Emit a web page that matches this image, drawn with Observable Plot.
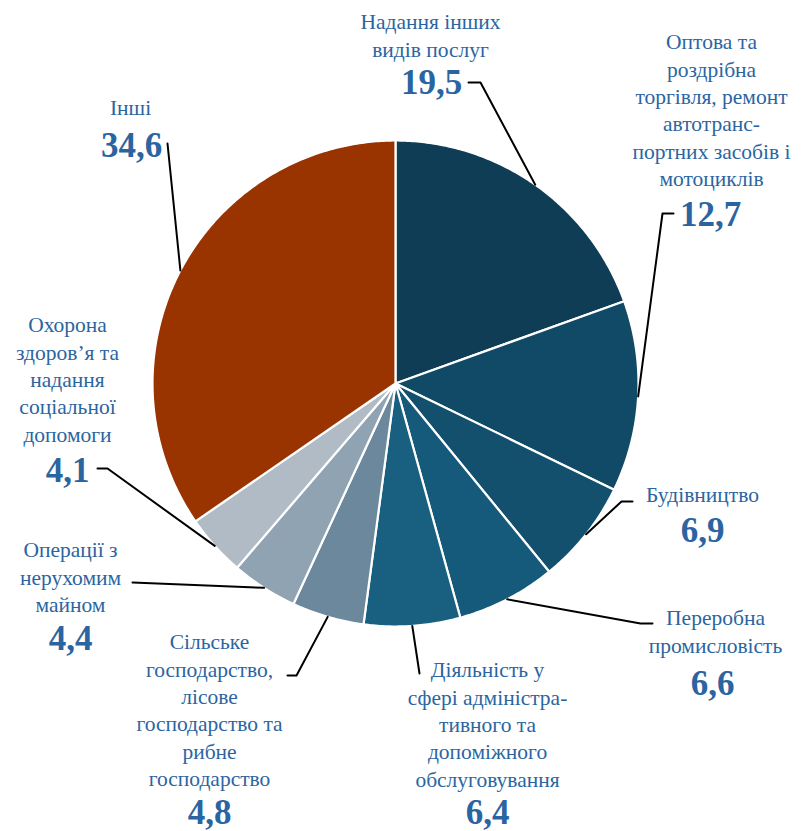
<!DOCTYPE html>
<html><head><meta charset="utf-8">
<script src="https://cdn.jsdelivr.net/npm/d3@7"></script>
<script src="https://cdn.jsdelivr.net/npm/@observablehq/plot@0.6"></script>
<style>body{margin:0;background:#fff}#chart svg{display:block}</style>
</head><body><div id="chart"></div>
<script>
// ---- data ----
const categories = [
  "Надання інших\nвидів послуг",
  "Оптова та\nроздрібна\nторгівля, ремонт\nавтотранс-\nпортних засобів і\nмотоциклів",
  "Будівництво",
  "Переробна\nпромисловість",
  "Діяльність у\nсфері адміністра-\nтивного та\nдопоміжного\nобслуговування",
  "Сільське\nгосподарство,\nлісове\nгосподарство та\nрибне\nгосподарство",
  "Операції з\nнерухомим\nмайном",
  "Охорона\nздоров’я та\nнадання\nсоціальної\nдопомоги",
  "Інші"
];
const values = [19.5, 12.7, 6.9, 6.6, 6.4, 4.8, 4.4, 4.1, 34.6];

// ---- styles / layout ----
const sliceColors = ["#0e3d55", "#114a66", "#13506e", "#155a7a", "#185f80", "#6b889c", "#8fa3b2", "#b0bbc5", "#993300"];
const W = 802, H = 831, CX = 395, CY = 383, R = 243;
const textColor = "#2b65a1";
const LH = 27.3;
const FONT = "Liberation Serif";
// label center x, first line y, number x, number y, leader points after pie edge
const layout = [
  {lx: 430, ly: 22, nx: 431, ny: 82, leader: [[480, 82], [468, 82]]},
  {lx: 711, ly: 42, nx: 710, ny: 214, leader: [[662, 213], [673, 213]]},
  {lx: 702, ly: 495, nx: 702, ny: 530, leader: [[621, 501], [632, 501]]},
  {lx: 715, ly: 618, nx: 712, ny: 683, leader: [[640, 623], [652, 623]]},
  {lx: 487, ly: 670, nx: 487, ny: 812, leader: [[419, 673]]},
  {lx: 209, ly: 642, nx: 209, ny: 812, leader: [[296, 675], [287, 675]]},
  {lx: 70, ly: 550, nx: 70, ny: 638, leader: [[132, 582]]},
  {lx: 67, ly: 325, nx: 67, ny: 470, leader: [[107, 468], [97, 468]]},
  {lx: 130, ly: 108, nx: 131, ny: 145, leader: [[167, 143]]}
];

// ---- derived ----
const arcs = d3.pie().sort(null).value(d => d)(values);
const pt = (a, r) => [CX + r * Math.sin(a), CY - r * Math.cos(a)];
const sliceRows = [];
arcs.forEach((a, i) => {
  sliceRows.push({s: i, x: CX, y: CY});
  const n = Math.max(4, Math.ceil((a.endAngle - a.startAngle) / 0.01));
  for (let k = 0; k <= n; k++) {
    const t = a.startAngle + (a.endAngle - a.startAngle) * k / n;
    const [x, y] = pt(t, R);
    sliceRows.push({s: i, x, y});
  }
});
const leaderRows = [];
arcs.forEach((a, i) => {
  const mid = (a.startAngle + a.endAngle) / 2;
  const [x0, y0] = pt(mid, R);
  leaderRows.push({s: i, x: x0, y: y0});
  layout[i].leader.forEach(([x, y]) => leaderRows.push({s: i, x, y}));
});
const labelRows = [];
categories.forEach((c, i) => {
  c.split("\n").forEach((line, k) => labelRows.push({text: line, x: layout[i].lx, y: layout[i].ly + k * LH}));
});
const numRows = values.map((v, i) => ({text: String(v).replace(".", ","), x: layout[i].nx, y: layout[i].ny}));

const plot = Plot.plot({
  width: W, height: H,
  margin: 0,
  x: {domain: [0, W], range: [0, W], axis: null},
  y: {domain: [0, H], range: [0, H], axis: null},
  color: {type: "identity"},
  style: {background: "white", overflow: "visible", fontFamily: FONT},
  marks: [
    Plot.line(sliceRows, {x: "x", y: "y", z: "s", fill: d => sliceColors[d.s], stroke: "white", strokeWidth: 2.2, curve: "linear-closed", strokeLinejoin: "round"}),
    Plot.line(leaderRows, {x: "x", y: "y", z: "s", stroke: "black", strokeWidth: 2}),
    Plot.text(labelRows, {x: "x", y: "y", text: "text", fill: textColor, fontSize: 21.5, fontFamily: FONT}),
    Plot.text(numRows, {x: "x", y: "y", text: "text", fill: textColor, fontSize: 35, fontWeight: "bold", fontFamily: FONT})
  ]
});
document.getElementById("chart").appendChild(plot);
</script>
</body></html>
